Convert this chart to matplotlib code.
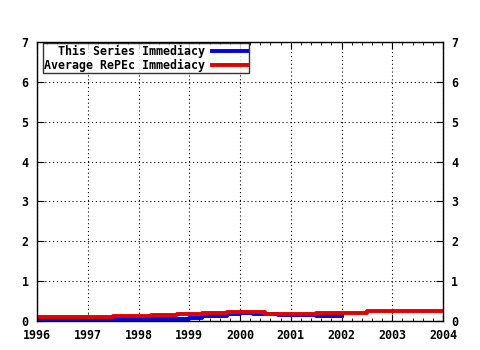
import numpy as np
import matplotlib.pyplot as plt
from matplotlib.ticker import MultipleLocator

# step edges (year) and values for each series
red_x = [1996, 1997.5, 1998.25, 1998.75, 1999.25, 1999.75, 2000.5, 2001.5, 2002.5, 2004]
red_y = [0.09, 0.12, 0.15, 0.17, 0.20, 0.23, 0.18, 0.21, 0.24, 0.24]
blue_x = [1996, 1997.5, 1999.0, 1999.25, 1999.75, 2000.0, 2000.25, 2000.75, 2001.5, 2002.0]
blue_y = [0.04, 0.05, 0.08, 0.12, 0.17, 0.20, 0.17, 0.15, 0.12, 0.12]
years = list(range(1996, 2005))

plt.rcParams['font.family'] = 'DejaVu Sans Mono'
plt.rcParams['font.weight'] = 'bold'
plt.rcParams['font.size'] = 8.4

fig = plt.figure(figsize=(4.8, 3.5), dpi=100)
ax = fig.add_axes([37/480, 29/350, 406/480, 279/350])

ax.step(blue_x, blue_y, where='post', color='#0000e0', lw=2.8, label='This Series Immediacy')
ax.step(red_x, red_y, where='post', color='#e00000', lw=2.8, label='Average RePEc Immediacy')

ax.set_xlim(1996, 2004)
ax.set_ylim(0, 7)
ax.set_xticks(years)
ax.set_xticklabels([str(y) for y in years])
ax.xaxis.set_minor_locator(MultipleLocator(0.2))
ax.set_yticks(range(8))
ax.tick_params(axis='both', which='both', direction='in', top=True, right=True, labelright=True)
ax.tick_params(which='major', length=5, pad=6)
ax.tick_params(which='minor', length=2.5)
ax.grid(True, which='major', color='black', linestyle=(0, (1, 2.5)), lw=0.8)
for s in ax.spines.values():
    s.set_linewidth(1)

leg = ax.legend(loc='upper left', bbox_to_anchor=(0.015, 0.996), frameon=True, fancybox=False,
                edgecolor='black', handlelength=3.0, markerfirst=False, borderpad=0.12,
                labelspacing=0.1, handletextpad=0.6, borderaxespad=0.0)
leg.get_frame().set_linewidth(1)
for t in leg.get_texts():
    t.set_ha('right')
leg._legend_box.align = 'right'

fig.savefig('out.png', dpi=100)
